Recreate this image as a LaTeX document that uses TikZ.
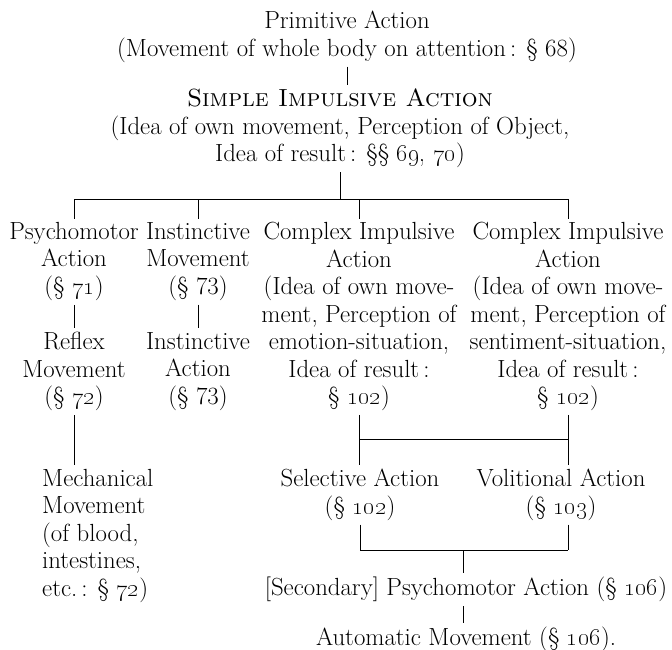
\documentclass[tikz,border=0pt]{standalone}
\usepackage{tikz}
\usetikzlibrary{positioning}

\begin{document}
\begin{tikzpicture}[x=1pt,y=-1pt,
  lbl/.style={font=\fontsize{24.8}{27.5}\selectfont,align=center,inner sep=0pt,anchor=north},
  link/.style={line width=0.9pt,shorten <=4pt,shorten >=4pt}]
\useasboundingbox (0,0) rectangle (672,650);
% primitive and simple action
\node[lbl] (prim) at (347,11) {Primitive Action\\(Movement of whole body on attention\,: \S~68)};
\node[lbl] (simple) at (340,89) {\textsc{Simple Impulsive Action}\\(Idea of own movement, Perception of Object,\\Idea of result\,: \S\S~\oldstylenums{69, 70})};
\draw[link] (prim.south) -- (prim.south |- simple.north);
\coordinate (bar) at (340,199);
\draw[link,shorten >=0pt] (simple.south) -- (simple.south |- bar);
% four branches
\node[lbl] (psy) at (74,222) {Psychomotor\\Action\\(\S~\oldstylenums{71})};
\node[lbl] (inmov) at (198,222) {Instinctive\\Movement\\(\S~73)};
\node[lbl] (cxemo) at (359,222) {Complex Impulsive\\Action\\(Idea of own move-\\ment, Perception of\\emotion-situation,\\Idea of result\,:\\\S~\oldstylenums{102})};
\node[lbl] (cxsen) at (568,222) {Complex Impulsive\\Action\\(Idea of own move-\\ment, Perception of\\sentiment-situation,\\Idea of result\,:\\\S~\oldstylenums{102})};
\draw[line width=0.9pt] (psy.north |- bar) -- (cxsen.north |- bar);
\foreach \n in {psy,inmov,cxemo,cxsen}
  \draw[link,shorten <=0pt,shorten >=3pt] (\n.north |- bar) -- (\n.north);
% reflex and instinctive action
\node[lbl] (reflex) at (74,332) {Reflex\\Movement\\(\S~\oldstylenums{72})};
\node[lbl] (inact) at (198,332) {Instinctive\\Action\\(\S~73)};
\draw[link] (psy.south) -- (reflex.north);
\draw[link] (inmov.south) -- (inact.north);
\node[lbl,align=left,anchor=north west] (mech) at (42,469) {Mechanical\\Movement\\(of blood,\\intestines,\\etc.\,: \S~\oldstylenums{72})};
\draw[link] (reflex.south) -- (reflex.south |- mech.north);
% selective and volitional
\node[lbl] (sel) at (360,469) {Selective Action\\(\S~\oldstylenums{102})};
\node[lbl] (vol) at (561,469) {Volitional Action\\(\S~\oldstylenums{103})};
\coordinate (split) at (460,439);
\draw[link] (cxemo.south) -- (cxemo.south |- sel.north);
\draw[link] (cxsen.south) -- (cxsen.south |- vol.north);
\draw[line width=0.9pt] (cxemo.south |- split) -- (cxsen.south |- split);
% secondary psychomotor and automatic
\coordinate (join) at (463,550);
\node[lbl] (sec) at (466,577) {[Secondary] Psychomotor Action (\S~\oldstylenums{106})};
\node[lbl] (autom) at (466,627) {Automatic Movement (\S~\oldstylenums{106}).};
\draw[link,shorten >=0pt] (sel.south) -- (sel.south |- join);
\draw[link,shorten >=0pt] (vol.south -| cxsen.south) -- (cxsen.south |- join);
\draw[line width=0.9pt] (sel.south |- join) -- (cxsen.south |- join);
\draw[link,shorten <=0pt] (join) -- (join |- sec.north);
\draw[link] (sec.south -| join) -- (join |- autom.north);
\end{tikzpicture}
\end{document}
